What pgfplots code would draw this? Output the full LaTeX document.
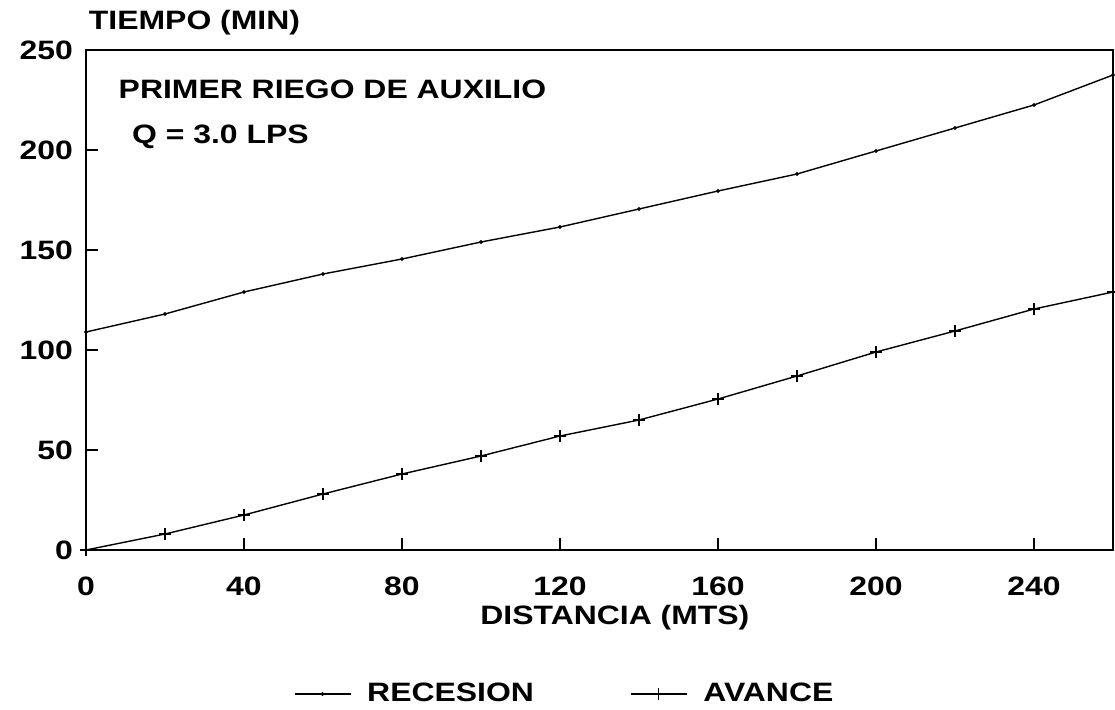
\documentclass[border=0pt]{standalone}
\usepackage{pgfplots}
\pgfplotsset{compat=1.18}
\usepackage{fontspec}
\setmainfont{Liberation Sans}[FakeStretch=1.2]
\newcommand\plotfont{\fontsize{13.3}{15}\selectfont\bfseries}

\begin{document}
\begin{tikzpicture}[font=\plotfont]
\useasboundingbox (0,0) rectangle (557.5pt,354.5pt);
\begin{axis}[
  at={(43pt,79.5pt)}, anchor=south west,
  scale only axis, width=513.5pt, height=250pt,
  xmin=0, xmax=260, ymin=0, ymax=250,
  xtick={0,40,...,240}, ytick={0,50,...,250},
  xtick pos=bottom, ytick pos=left,
  tick align=inside, major tick length=6pt,
  axis line style={line width=0.8pt},
  every tick/.style={black, line width=0.8pt},
  /pgf/number format/assume math mode=true,
  every tick label/.append style={font=\plotfont},
  xticklabel style={yshift=-10pt},
  yticklabel style={xshift=-3pt},
  xlabel={DISTANCIA (MTS)},
  xlabel style={font=\plotfont, at={(axis description cs:0.515,0)}, anchor=center, yshift=-34pt},
  ylabel={TIEMPO (MIN)},
  ylabel style={font=\plotfont, rotate=-90, at={(axis description cs:-0.004,1.054)}, anchor=west},
  legend columns=2,
  legend style={draw=none, fill=none, font=\plotfont,
    at={(axis description cs:0.467,-0.288)}, anchor=center,
    /tikz/every even column/.append style={column sep=46pt}},
  legend image code/.code={%
    \draw[mark repeat=2, mark phase=2, #1] plot coordinates {(0pt,0pt) (14pt,0pt) (28pt,0pt)};
    \path (34pt,0pt);},
]
\addplot[black, line width=0.7pt, mark=*, mark size=0.6pt] coordinates {
  (0,109) (20,118) (40,129) (60,138) (80,145.5) (100,154) (120,161.5)
  (140,170.5) (160,179.5) (180,188) (200,199.5) (220,211) (240,222.5) (260,237.5)
};
\addlegendentry{RECESION}
\addplot[black, line width=0.7pt, mark=+, mark size=3pt, mark options={line width=0.8pt}] coordinates {
  (0,0) (20,8) (40,17.5) (60,28) (80,38) (100,47) (120,57)
  (140,65) (160,75.5) (180,87) (200,99) (220,109.5) (240,120.5) (260,129)
};
\addlegendentry{AVANCE}
\node[anchor=west, font=\plotfont] at (axis description cs:0.025,0.922) {PRIMER RIEGO DE AUXILIO};
\node[anchor=west, font=\plotfont] at (axis description cs:0.038,0.826) {Q = 3.0 LPS};
\end{axis}
\end{tikzpicture}
\end{document}
